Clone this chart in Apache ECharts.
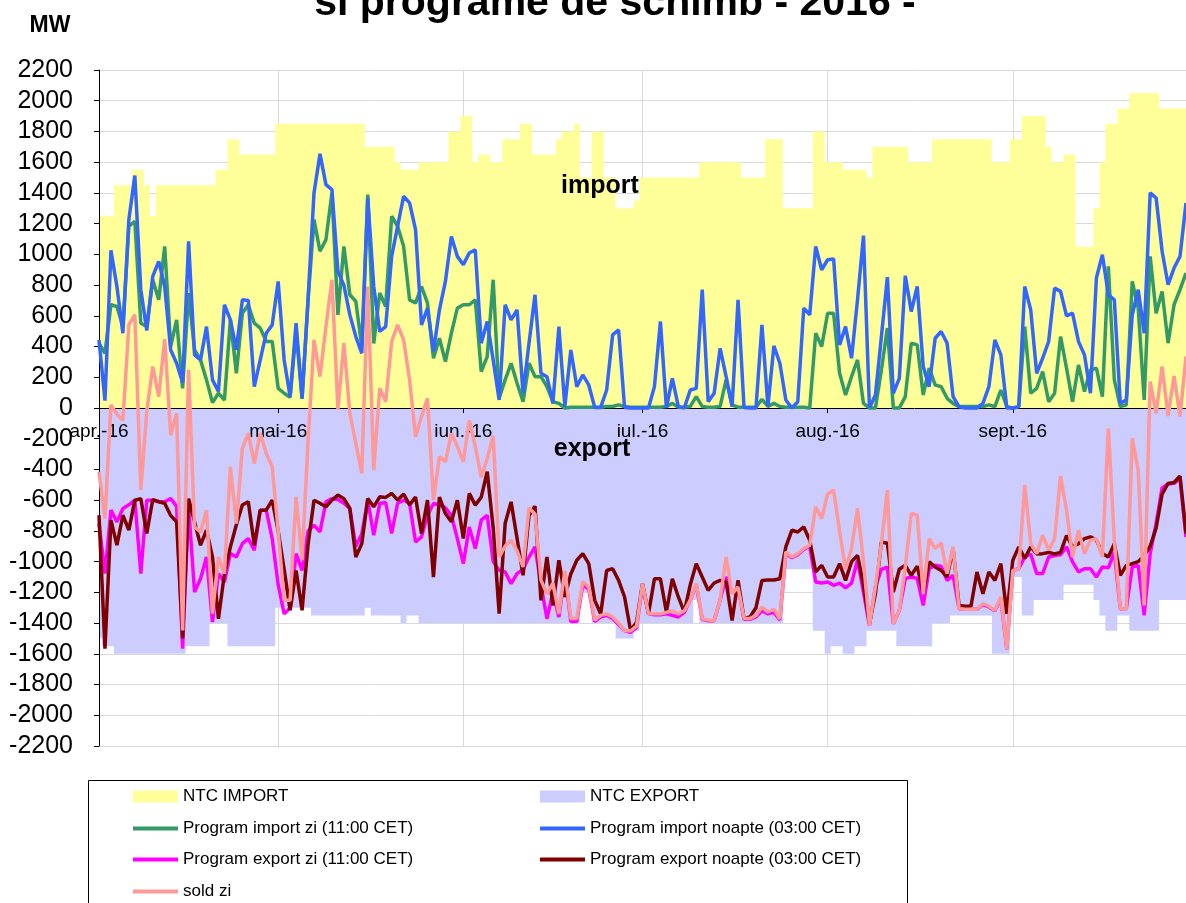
<!DOCTYPE html>
<html><head><meta charset="utf-8">
<script src="https://cdn.jsdelivr.net/npm/echarts@6/dist/echarts.min.js"></script>
<style>html,body{margin:0;padding:0;background:#fff}#chart{width:1186px;height:903px}</style>
</head><body><div id="chart"></div>
<script>
// ---- tick labels (month starts) ----
const monthLabels = ['apr.-16','mai-16','iun.-16','iul.-16','aug.-16','sept.-16'];
const monthStartIndex = [0,30,61,91,122,153];
// ---- categories: days 1 Apr 2016 .. 30 Sep 2016 ----
const categories = [];
for (let i = 0; i < 183; i++) { const d = new Date(2016, 3, 1 + i); categories.push(d.getFullYear()+'-'+(d.getMonth()+1)+'-'+d.getDate()); }

const seriesNames = ['NTC IMPORT','NTC EXPORT','Program import zi (11:00 CET)','Program import noapte (03:00 CET)','Program export zi (11:00 CET)','Program export noapte (03:00 CET)','sold zi'];

const ntcImport = [
1250,1250,1250,1450,1450,1450,1550,1550,1450,1250,1450,1450,1450,1450,1450,1450,1450,1450,1450,1450,1550,1550,1750,1750,1650,1650,1650,1650,1650,1650,
1850,1850,1850,1850,1850,1850,1850,1850,1850,1850,1850,1850,1850,1850,1850,1700,1700,1700,1700,1700,1600,1550,1550,1550,1600,1600,1600,1600,1600,1800,1800,
1900,1900,1600,1650,1650,1600,1600,1750,1750,1750,1850,1850,1650,1650,1650,1650,1750,1800,1800,1850,1500,1500,1800,1800,1500,1500,1300,1300,1300,1350,
1500,1500,1500,1500,1500,1500,1500,1500,1500,1500,1600,1600,1600,1600,1600,1600,1600,1500,1500,1500,1500,1750,1750,1750,1300,1300,1300,1300,1300,1800,1800,
1600,1600,1600,1550,1550,1550,1550,1500,1700,1700,1700,1700,1700,1700,1600,1600,1600,1600,1750,1750,1750,1750,1750,1750,1750,1750,1750,1750,1600,1600,1600,
1750,1750,1900,1900,1900,1900,1700,1600,1600,1650,1650,1050,1050,1050,1300,1600,1850,1850,1950,1950,2050,2050,2050,2050,2050,1950,1950,1950,1950,1950];

const ntcExport = [
-1500,-1550,-1550,-1600,-1600,-1600,-1600,-1600,-1600,-1600,-1600,-1600,-1600,-1600,-1600,-1550,-1550,-1550,-1550,-1400,-1400,-1400,-1550,-1550,-1550,-1550,-1550,-1550,-1550,-1550,
-1300,-1300,-1300,-1300,-1300,-1300,-1350,-1350,-1350,-1350,-1350,-1350,-1350,-1350,-1350,-1300,-1350,-1350,-1350,-1350,-1350,-1400,-1350,-1350,-1400,-1400,-1400,-1400,-1400,-1400,-1400,
-1400,-1400,-1400,-1400,-1400,-1400,-1400,-1400,-1400,-1400,-1400,-1400,-1400,-1400,-1400,-1400,-1400,-1400,-1400,-1400,-1200,-1200,-1400,-1400,-1400,-1400,-1500,-1500,-1500,-1450,
-1400,-1400,-1400,-1400,-1400,-1400,-1400,-1400,-1400,-1250,-1400,-1400,-1400,-1400,-1400,-1400,-1400,-1400,-1400,-1400,-1400,-1400,-1400,-1400,-1050,-1050,-1050,-1050,-1050,-1450,-1450,
-1600,-1550,-1550,-1600,-1600,-1550,-1550,-1450,-1450,-1450,-1450,-1450,-1550,-1550,-1550,-1550,-1550,-1550,-1400,-1400,-1400,-1350,-1350,-1350,-1350,-1350,-1350,-1350,-1600,-1600,-1600,
-1100,-1100,-1350,-1350,-1250,-1250,-1250,-1250,-1250,-1150,-1150,-1150,-1150,-1150,-1250,-1350,-1450,-1450,-1350,-1350,-1450,-1450,-1450,-1450,-1450,-1250,-1250,-1250,-1250,-1250];

const importZi = [
422,356,672,661,530,1183,1215,552,530,835,704,1052,400,574,128,748,378,313,183,35,96,52,574,226,617,672,552,520,433,433,
128,96,70,500,60,700,1226,1020,1096,1400,606,1052,737,694,400,1389,420,748,661,1248,1183,1052,704,683,791,683,324,454,302,487,650,
672,672,704,237,335,835,63,183,291,161,41,291,204,204,139,41,30,0,5,5,5,5,5,5,10,10,20,10,5,5,
5,5,5,5,10,30,5,5,10,74,10,5,5,10,183,20,5,5,5,5,56,10,30,10,5,5,5,5,0,487,400,
617,617,226,85,204,313,30,0,0,248,520,0,0,74,422,411,85,259,150,139,63,30,9,9,9,9,9,20,9,117,9,
0,9,530,96,128,237,41,96,465,259,41,280,107,248,259,74,922,183,9,20,824,650,52,987,617,759,422,672,770,878];

const importNoapte = [
443,48,1026,790,487,1226,1513,770,504,857,954,791,378,291,165,1085,346,313,530,183,107,672,574,378,704,700,139,313,487,541,
824,313,74,552,63,704,1400,1654,1454,1422,889,800,606,465,356,1367,791,498,530,987,1183,1378,1335,1161,541,650,367,639,824,1117,987,
933,1009,1030,422,563,313,52,672,574,639,96,422,737,226,204,30,530,9,378,139,215,150,4,4,117,476,509,4,0,0,
0,0,139,563,0,193,9,0,117,128,770,41,96,389,204,9,704,4,0,0,541,9,404,291,52,0,41,650,607,1052,900,
965,970,411,530,324,704,1122,0,85,465,852,96,193,861,628,791,270,139,454,498,422,74,9,0,0,0,30,139,443,346,0,
0,9,791,639,226,324,433,780,759,600,617,433,346,96,846,998,737,704,30,52,607,770,487,1400,1367,1020,802,911,987,1335];

const exportZi = [
-750,-1078,-665,-741,-654,-630,-600,-1078,-600,-600,-610,-610,-590,-640,-1567,-640,-1198,-1111,-970,-1393,-1078,-1133,-948,-970,-883,-850,-926,-665,-665,-850,
-1150,-1340,-1300,-948,-1057,-800,-763,-806,-611,-590,-595,-620,-654,-900,-820,-600,-828,-622,-615,-817,-620,-600,-620,-872,-839,-700,-622,-630,-650,-700,-850,
-1013,-774,-915,-730,-698,-1000,-1057,-1067,-1143,-1078,-1050,-970,-904,-1150,-1372,-1200,-1361,-1080,-1390,-1390,-1150,-1180,-1390,-1360,-1350,-1370,-1410,-1450,-1460,-1430,
-1150,-1340,-1345,-1345,-1340,-1350,-1360,-1330,-1250,-1150,-1375,-1385,-1385,-1250,-1100,-1200,-1170,-1375,-1375,-1360,-1320,-1340,-1330,-1380,-945,-975,-955,-920,-900,-1133,-1139,
-1133,-1154,-1140,-1170,-1140,-991,-1200,-1415,-1165,-1050,-1035,-1404,-1317,-1111,-1100,-1110,-1285,-1046,-1024,-1030,-1122,-1089,-1307,-1310,-1310,-1310,-1280,-1295,-1320,-1240,-1570,
-1057,-1046,-970,-950,-1078,-1078,-970,-960,-955,-904,-1002,-1067,-1046,-1046,-1100,-1035,-1040,-937,-1307,-1307,-1035,-1025,-1350,-950,-750,-520,-495,-490,-460,-840];

const exportNoapte = [
-698,-1567,-730,-893,-698,-795,-600,-590,-817,-596,-610,-620,-700,-741,-1500,-590,-741,-893,-795,-970,-1372,-1078,-904,-760,-632,-610,-893,-665,-665,-600,
-800,-1050,-1317,-1057,-1317,-890,-600,-620,-643,-600,-567,-590,-654,-970,-883,-589,-643,-578,-582,-556,-600,-560,-630,-580,-817,-600,-1100,-580,-687,-741,-600,
-850,-556,-632,-580,-415,-780,-1339,-752,-611,-850,-1089,-700,-639,-1252,-970,-1285,-991,-1230,-1080,-991,-948,-1013,-1252,-1339,-1057,-1046,-1122,-1230,-1448,-1394,
-1143,-1339,-1111,-1111,-1328,-1111,-1230,-1328,-1150,-1013,-1100,-1187,-1139,-1122,-1130,-1383,-1122,-1372,-1360,-1300,-1122,-1120,-1120,-1111,-904,-796,-807,-774,-861,-1067,-1024,
-1100,-1100,-1013,-1122,-1000,-959,-1150,-1404,-1209,-872,-880,-1198,-1050,-1024,-1089,-1030,-1209,-1002,-1035,-1057,-1100,-915,-1285,-1290,-1290,-1067,-1209,-1067,-1122,-1013,-1339,
-991,-904,-980,-904,-950,-948,-940,-950,-940,-830,-904,-883,-850,-839,-860,-948,-970,-883,-1089,-1024,-1013,-1000,-960,-900,-780,-560,-491,-485,-443,-817];

const soldZi = [
-415,-720,20,-40,-80,541,607,-535,-20,270,74,448,-176,-35,-1448,248,-774,-807,-665,-1339,-970,-1078,-383,-752,-263,-165,-361,-165,-296,-383,
-800,-1252,-1252,-578,-991,-220,443,204,530,835,-10,422,-35,-230,-426,791,-404,128,41,433,541,443,183,-187,-56,63,-600,-317,-350,-165,-250,
-350,-80,-250,-450,-330,-180,-970,-900,-860,-930,-1035,-650,-690,-1120,-1210,-1140,-1340,-1060,-1370,-1370,-1130,-1165,-1380,-1350,-1340,-1360,-1400,-1450,-1450,-1420,
-1143,-1339,-1340,-1340,-1330,-1320,-1340,-1320,-1250,-1143,-1372,-1380,-1383,-1250,-970,-1209,-1165,-1370,-1370,-1350,-1296,-1328,-1310,-1372,-937,-970,-948,-915,-893,-643,-720,
-560,-535,-800,-1050,-915,-654,-1000,-1415,-1165,-883,-535,-1404,-1317,-1035,-687,-698,-1209,-850,-915,-878,-1078,-904,-1307,-1310,-1310,-1310,-1274,-1290,-1317,-1230,-1567,
-1057,-1050,-500,-883,-948,-828,-926,-850,-443,-665,-970,-796,-948,-861,-850,-970,-133,-861,-1307,-1307,-198,-404,-1285,172,-35,270,-52,209,-56,335];

const colors = ['#FFFF99','#CCCCFF','#339966','#3366FF','#FF00FF','#800000','#FF9999'];
const FONT = 'Liberation Sans, Arial, sans-serif';

const Y_MIN = -2200, Y_MAX = 2200, Y_STEP = 200;
const GRID_TOP = 70, GRID_BOTTOM = 157, CHART_H = 903;
// distance (px) from the grid's bottom edge up to the value 0, so the category axis sits on zero
const plotH = CHART_H - GRID_TOP - GRID_BOTTOM;
const zeroOffset = -plotH * (0 - Y_MIN) / (Y_MAX - Y_MIN);

const isMonthStart = (idx) => monthStartIndex.indexOf(idx) >= 0;

function areaSeries(name, data, color) {
  return { name, type:'line', data, step:'middle', symbol:'none', xAxisIndex:0, yAxisIndex:0,
    color, itemStyle:{color}, lineStyle:{width:0, color}, areaStyle:{color, opacity:1}, z:2, silent:true };
}
function lineSeries(name, data, color) {
  return { name, type:'line', data, symbol:'none', showSymbol:false, xAxisIndex:0, yAxisIndex:0,
    color, itemStyle:{color}, lineStyle:{width:3.5, color}, z:4, silent:true };
}
function legendItem(name, left, top, h) {
  return { data:[name], left, top, padding:0, itemWidth:45, itemHeight:h, icon:'rect', selectedMode:false,
    textStyle:{fontSize:17, color:'#000', fontFamily:FONT} };
}

const chart = echarts.init(document.getElementById('chart'), null, {renderer:'canvas'});
chart.setOption({
  animation:false,
  backgroundColor:'#ffffff',
  grid:{left:99, right:0, top:GRID_TOP, bottom:GRID_BOTTOM, containLabel:false},
  xAxis:[
    { type:'category', data:categories, boundaryGap:false, z:0,
      axisLine:{show:false, onZero:false}, axisTick:{show:false}, axisLabel:{show:false},
      splitLine:{show:true, interval:(i)=>isMonthStart(i), lineStyle:{color:'#d9d9d9', width:1}} },
    { type:'category', data:categories, boundaryGap:false, position:'bottom', offset:zeroOffset, z:3,
      axisLine:{show:true, onZero:false, lineStyle:{color:'#000', width:1}},
      axisTick:{show:true, interval:(i)=>isMonthStart(i), length:5, lineStyle:{color:'#000'}},
      axisLabel:{show:true, interval:(i)=>isMonthStart(i), margin:14, fontSize:19, color:'#000', fontFamily:FONT,
        formatter:(v, idx)=>{ const k = monthStartIndex.indexOf(idx); return k>=0 ? monthLabels[k] : ''; }},
      splitLine:{show:false} }
  ],
  yAxis:[
    { type:'value', min:Y_MIN, max:Y_MAX, interval:Y_STEP, z:0,
      axisLine:{show:false}, axisTick:{show:false}, axisLabel:{show:false},
      splitLine:{show:true, lineStyle:{color:'#d9d9d9', width:1}} },
    { type:'value', min:Y_MIN, max:Y_MAX, interval:Y_STEP, position:'left', z:3,
      axisLine:{show:true, onZero:false, lineStyle:{color:'#000', width:1}},
      axisTick:{show:true, length:5, lineStyle:{color:'#000'}},
      axisLabel:{show:true, margin:26, fontSize:25, color:'#000', fontFamily:FONT, formatter:(v)=>String(v)},
      splitLine:{show:false} }
  ],
  legend:[
    legendItem(seriesNames[0], 133, 788, 12),
    legendItem(seriesNames[1], 540, 788, 12),
    legendItem(seriesNames[2], 133, 820, 4),
    legendItem(seriesNames[3], 540, 820, 4),
    legendItem(seriesNames[4], 133, 851, 4),
    legendItem(seriesNames[5], 540, 851, 4),
    legendItem(seriesNames[6], 133, 883, 4)
  ],
  graphic:[
    { type:'text', x:615, y:4, silent:true,
      style:{ text:'si programe de schimb - 2016 -', fill:'#000', font:'bold 41px '+FONT, align:'center', verticalAlign:'middle', textAlign:'center', textVerticalAlign:'middle' } },
    { type:'text', x:50, y:26, silent:true,
      style:{ text:'MW', fill:'#000', font:'bold 23px '+FONT, align:'center', verticalAlign:'middle', textAlign:'center', textVerticalAlign:'middle' } },
    { type:'text', x:600, y:186, z:10, silent:true,
      style:{ text:'import', fill:'#000', font:'bold 25px '+FONT, align:'center', verticalAlign:'middle', textAlign:'center', textVerticalAlign:'middle' } },
    { type:'text', x:592, y:449, z:10, silent:true,
      style:{ text:'export', fill:'#000', font:'bold 25px '+FONT, align:'center', verticalAlign:'middle', textAlign:'center', textVerticalAlign:'middle' } },
    { type:'rect', silent:true, shape:{x:88.5, y:780.5, width:819, height:140},
      style:{ fill:'none', stroke:'#000', lineWidth:1 } }
  ],
  series:[
    areaSeries(seriesNames[0], ntcImport, colors[0]),
    areaSeries(seriesNames[1], ntcExport, colors[1]),
    lineSeries(seriesNames[2], importZi, colors[2]),
    lineSeries(seriesNames[3], importNoapte, colors[3]),
    lineSeries(seriesNames[4], exportZi, colors[4]),
    lineSeries(seriesNames[5], exportNoapte, colors[5]),
    lineSeries(seriesNames[6], soldZi, colors[6])
  ]
});
</script>
</body></html>
